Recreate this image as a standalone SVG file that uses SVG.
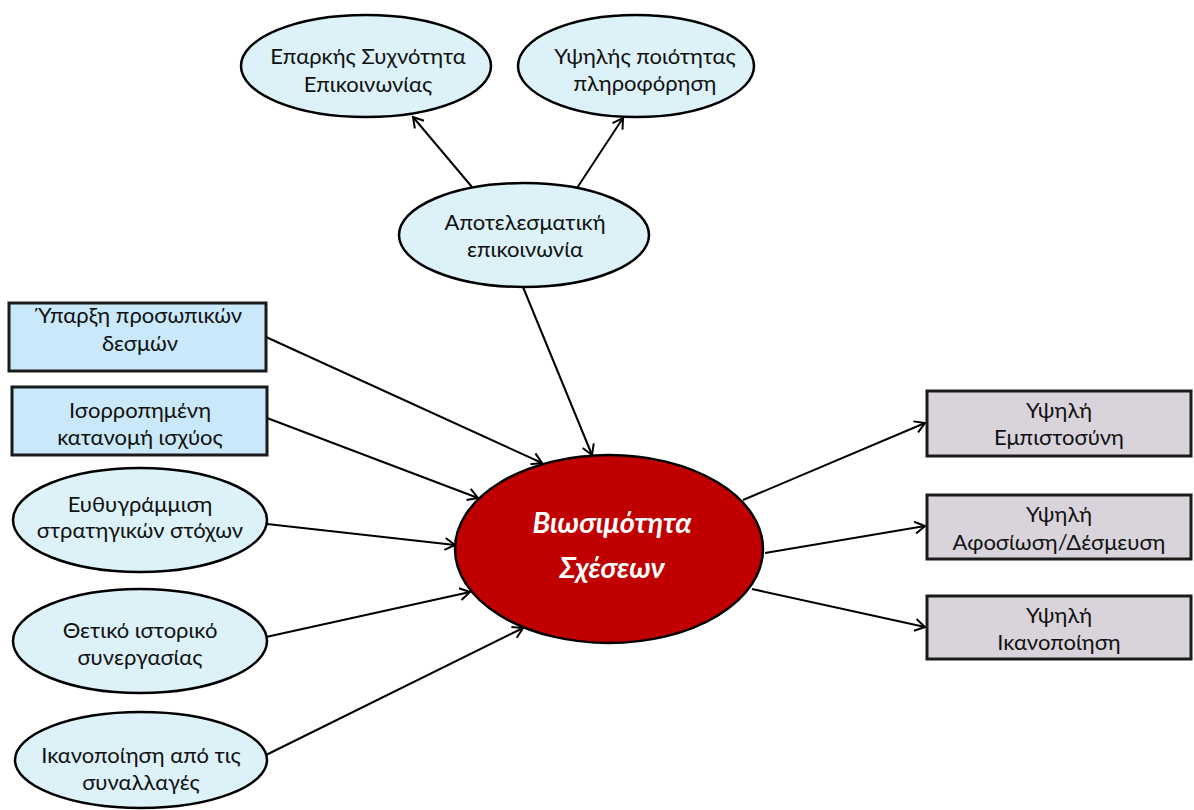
<svg xmlns="http://www.w3.org/2000/svg" width="1194" height="810" viewBox="0 0 1194 810">
<style>
text{font-family:Lato,"Open Sans","Noto Sans",sans-serif;font-size:22px;fill:#111;text-anchor:middle}
.el{fill:#DCF1F8;stroke:#000;stroke-width:2.5}
.bl{fill:#C9E8FA;stroke:#1a1a1a;stroke-width:3}
.gr{fill:#D9D4DB;stroke:#1a1a1a;stroke-width:3}
.c{stroke:#000;stroke-width:2;fill:none;marker-end:url(#ah)}
.main{fill:#C00000;stroke:#000;stroke-width:2.5}
.mt{fill:#fff;font-weight:bold;font-style:italic;font-size:29px}
</style>
<defs>
<marker id="ah" markerWidth="14" markerHeight="14" refX="12" refY="7" orient="auto" markerUnits="userSpaceOnUse">
<path d="M2,1 L12,7 L2,13" fill="none" stroke="#000" stroke-width="2"/>
</marker>
</defs>
<g id="connectors">
<line class="c" x1="472" y1="187" x2="413" y2="117"/>
<line class="c" x1="577" y1="188" x2="623" y2="118"/>
<line class="c" x1="523" y1="287" x2="592" y2="455"/>
<line class="c" x1="266" y1="337" x2="542" y2="463"/>
<line class="c" x1="267" y1="418" x2="478" y2="498"/>
<line class="c" x1="267" y1="524" x2="455" y2="545"/>
<line class="c" x1="266" y1="637" x2="470" y2="592"/>
<line class="c" x1="266" y1="755" x2="523" y2="628"/>
<line class="c" x1="743" y1="500" x2="925" y2="423"/>
<line class="c" x1="765" y1="553" x2="925" y2="526"/>
<line class="c" x1="752" y1="589" x2="925" y2="627"/>
</g>
<g id="n-freq"><ellipse class="el" cx="366" cy="66" rx="125" ry="51"/><text x="368" y="64">Επαρκής Συχνότητα</text><text x="368" y="92">Επικοινωνίας</text></g>
<g id="n-quality"><ellipse class="el" cx="636" cy="66" rx="118" ry="51"/><text x="645" y="64">Υψηλής ποιότητας</text><text x="645" y="91">πληροφόρηση</text></g>
<g id="n-comm"><ellipse class="el" cx="524" cy="235" rx="125" ry="52"/><text x="525" y="230">Αποτελεσματική</text><text x="525" y="257">επικοινωνία</text></g>
<g id="n-bonds"><rect class="bl" x="9" y="303" width="257" height="68"/><text x="140" y="323">Ύπαρξη προσωπικών</text><text x="140" y="351">δεσμών</text></g>
<g id="n-power"><rect class="bl" x="12" y="387" width="255" height="68"/><text x="140" y="418">Ισορροπημένη</text><text x="140" y="445">κατανομή ισχύος</text></g>
<g id="n-goals"><ellipse class="el" cx="140" cy="520" rx="127" ry="52"/><text x="140" y="512">Ευθυγράμμιση</text><text x="140" y="538">στρατηγικών στόχων</text></g>
<g id="n-history"><ellipse class="el" cx="140" cy="641" rx="127" ry="52"/><text x="140" y="638">Θετικό ιστορικό</text><text x="140" y="665">συνεργασίας</text></g>
<g id="n-trans"><ellipse class="el" cx="141" cy="760" rx="126" ry="48"/><text x="141" y="763">Ικανοποίηση από τις</text><text x="141" y="790">συναλλαγές</text></g>
<g id="n-main"><ellipse class="main" cx="609" cy="549" rx="154" ry="94"/><text class="mt" x="612" y="533">Βιωσιμότητα</text><text class="mt" x="612" y="578">Σχέσεων</text></g>
<g id="n-trust"><rect class="gr" x="927" y="391" width="264" height="65"/><text x="1059" y="418">Υψηλή</text><text x="1059" y="445">Εμπιστοσύνη</text></g>
<g id="n-commit"><rect class="gr" x="927" y="495" width="264" height="64"/><text x="1059" y="522">Υψηλή</text><text x="1059" y="550">Αφοσίωση/Δέσμευση</text></g>
<g id="n-satis"><rect class="gr" x="927" y="596" width="264" height="63"/><text x="1059" y="623">Υψηλή</text><text x="1059" y="650">Ικανοποίηση</text></g>
</svg>
